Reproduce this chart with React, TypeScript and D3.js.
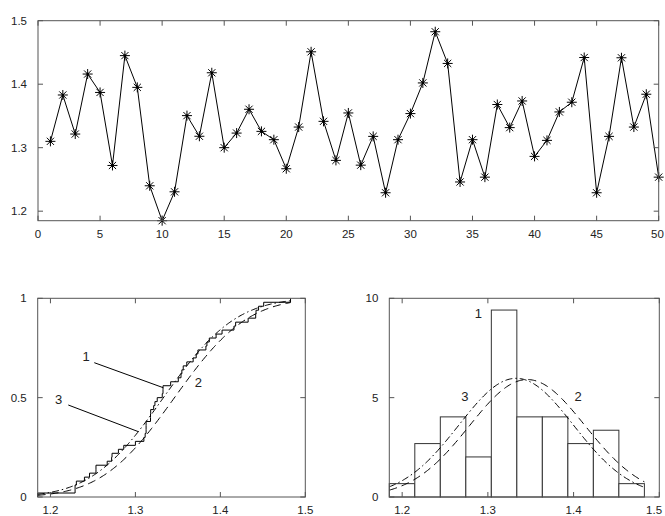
import React from 'react';
import * as d3 from 'd3';

// ---- data ----
const sampleValues = [
  1.31, 1.383, 1.3215, 1.416, 1.387, 1.272, 1.445, 1.395, 1.24, 1.185,
  1.2305, 1.3505, 1.318, 1.418, 1.3, 1.323, 1.3605, 1.3257, 1.3126, 1.2668,
  1.3325, 1.451, 1.3415, 1.28, 1.3547, 1.2725, 1.3178, 1.229, 1.3126, 1.3537,
  1.402, 1.4826, 1.4327, 1.246, 1.3126, 1.2536, 1.368, 1.3316, 1.3736, 1.2863,
  1.3115, 1.3563, 1.3716, 1.442, 1.229, 1.3178, 1.4416, 1.3325, 1.3842, 1.2536,
];
const sampleIndex = sampleValues.map((_, i) => i + 1);
const topXTicks = [0, 5, 10, 15, 20, 25, 30, 35, 40, 45, 50];
const topYTicks = [1.2, 1.3, 1.4, 1.5];
const topYLabels = ['1.2', '1.3', '1.4', '1.5'];
const bottomXTicks = [1.2, 1.3, 1.4, 1.5];
const bottomXLabels = ['1.2', '1.3', '1.4', '1.5'];
const cdfYTicks = [0, 0.5, 1];
const cdfYLabels = ['0', '0.5', '1'];
const histYTicks = [0, 5, 10];
const histYLabels = ['0', '5', '10'];
const histCounts = [1, 4, 6, 3, 14, 6, 6, 4, 5, 1];
// fitted normal distributions (curve 2 dashed, curve 3 dash-dot)
const fit2 = { mean: 1.346, sigma: 0.0675 };
const fit3 = { mean: 1.333, sigma: 0.0668 };

// annotation positions in data units
const cdfLabels = [
  { t: '1', x: 1.2419, y: 0.71 },
  { t: '3', x: 1.2097, y: 0.493 },
  { t: '2', x: 1.374, y: 0.58 },
];
const cdfLeaders = [
  { x1: 1.2516, y1: 0.676, x2: 1.3328, y2: 0.55 },
  { x1: 1.221, y1: 0.463, x2: 1.3034, y2: 0.329 },
];
const histLabels = [
  { t: '1', x: 1.2888, y: 9.25 },
  { t: '3', x: 1.2733, y: 5.1 },
  { t: '2', x: 1.4054, y: 5.1 },
];

const FONT = 'Liberation Sans, Arial, sans-serif';
const AX = '#555';
const TXT = '#222';
const PAGE_W = 665;

function erf(x: number) {
  const s = x < 0 ? -1 : 1;
  const a = Math.abs(x);
  const t = 1 / (1 + 0.3275911 * a);
  const y = 1 - (((((1.061405429 * t - 1.453152027) * t) + 1.421413741) * t - 0.284496736) * t + 0.254829592) * t * Math.exp(-a * a);
  return s * y;
}
const normCdf = (x: number, m: number, s: number) => 0.5 * (1 + erf((x - m) / (s * Math.SQRT2)));
const normPdf = (x: number, m: number, s: number) => Math.exp(-0.5 * ((x - m) / s) ** 2) / (s * Math.sqrt(2 * Math.PI));

type Frame = { left: number; right: number; top: number; bottom: number };

function AxesBox({ f, x, y, xTicks, xLabels, yTicks, yLabels }: any) {
  const tl = 5;
  return (
    <g>
      <rect x={f.left} y={f.top} width={f.right - f.left} height={f.bottom - f.top} fill="none" stroke={AX} strokeWidth={1} />
      {xTicks.map((t: number, i: number) => {
        const px = x(t);
        const lbl = String(xLabels[i]);
        const half = lbl.length * 3.3;
        const cx = Math.min(px, PAGE_W - 1 - half);
        return (
          <g key={'x' + i}>
            <line x1={px} x2={px} y1={f.bottom} y2={f.bottom - tl} stroke={AX} />
            <line x1={px} x2={px} y1={f.top} y2={f.top + tl} stroke={AX} />
            <text x={cx} y={f.bottom + 17} textAnchor="middle" fontSize={11.5} fontFamily={FONT} fill={TXT}>{lbl}</text>
          </g>
        );
      })}
      {yTicks.map((t: number, i: number) => {
        const py = y(t);
        return (
          <g key={'y' + i}>
            <line x1={f.left} x2={f.left + tl} y1={py} y2={py} stroke={AX} />
            <line x1={f.right} x2={f.right - tl} y1={py} y2={py} stroke={AX} />
            <text x={f.left - 11} y={py + 4} textAnchor="end" fontSize={11.5} fontFamily={FONT} fill={TXT}>{yLabels[i]}</text>
          </g>
        );
      })}
    </g>
  );
}

function Star({ cx, cy }: { cx: number; cy: number }) {
  const r = 5;
  const d = r * 0.72;
  return (
    <g stroke="#000" strokeWidth={1}>
      <line x1={cx - r} x2={cx + r} y1={cy} y2={cy} />
      <line x1={cx} x2={cx} y1={cy - r} y2={cy + r} />
      <line x1={cx - d} x2={cx + d} y1={cy - d} y2={cy + d} />
      <line x1={cx - d} x2={cx + d} y1={cy + d} y2={cy - d} />
      <circle cx={cx} cy={cy} r={1.3} fill="#000" stroke="none" />
    </g>
  );
}

export default function App() {
  const vMin = d3.min(sampleValues) as number;
  const vMax = d3.max(sampleValues) as number;
  const N = sampleValues.length;

  // top chart
  const fTop: Frame = { left: 38, right: 658.7, top: 20.7, bottom: 220.7 };
  const xTop = d3.scaleLinear().domain([0, 50]).range([fTop.left, fTop.right]);
  const yTop = d3.scaleLinear().domain([vMin, 1.5]).range([fTop.bottom, fTop.top]);
  const linePath = d3.line<number>().x((_, i) => xTop(sampleIndex[i])).y((v) => yTop(v))(sampleValues) as string;

  // CDF chart
  const fCdf: Frame = { left: 37.7, right: 305.3, top: 298.3, bottom: 497 };
  const xCdf = d3.scaleLinear().domain([vMin, 1.5]).range([fCdf.left, fCdf.right]);
  const yCdf = d3.scaleLinear().domain([0, 1]).range([fCdf.bottom, fCdf.top]);
  const sorted = [...sampleValues].sort(d3.ascending);
  const stairPts: [number, number][] = [[sorted[0], 0]];
  sorted.forEach((v, i) => {
    stairPts.push([v, i / N]);
    stairPts.push([v, (i + 1) / N]);
  });
  const ecdfPath = d3.line<[number, number]>().x((d) => xCdf(d[0])).y((d) => yCdf(d[1]))(stairPts) as string;
  const grid = d3.range(0, 201).map((i) => vMin + ((vMax - vMin) * i) / 200);
  const cdf2 = d3.line<number>().x((v) => xCdf(v)).y((v) => yCdf(normCdf(v, fit2.mean, fit2.sigma)))(grid) as string;
  const cdf3 = d3.line<number>().x((v) => xCdf(v)).y((v) => yCdf(normCdf(v, fit3.mean, fit3.sigma)))(grid) as string;

  // histogram chart
  const fHist: Frame = { left: 389.3, right: 659.3, top: 298.3, bottom: 497 };
  const xHist = d3.scaleLinear().domain([vMin, 1.5]).range([fHist.left, fHist.right]);
  const yHist = d3.scaleLinear().domain([0, 10]).range([fHist.bottom, fHist.top]);
  const binW = (vMax - vMin) / histCounts.length;
  const pdf2 = d3.line<number>().x((v) => xHist(v)).y((v) => yHist(normPdf(v, fit2.mean, fit2.sigma)))(grid) as string;
  const pdf3 = d3.line<number>().x((v) => xHist(v)).y((v) => yHist(normPdf(v, fit3.mean, fit3.sigma)))(grid) as string;

  const dash2 = '8,5';
  const dash3 = '7,3,1.5,3';

  return (
    <div style={{ position: 'absolute', left: 0, top: 0 }}>
      <svg width={665} height={516} style={{ display: 'block', background: '#fff' }}>
        {/* top chart */}
        <path d={linePath} fill="none" stroke="#000" strokeWidth={1} />
        {sampleValues.map((v, i) => (
          <Star key={i} cx={xTop(sampleIndex[i])} cy={yTop(v)} />
        ))}
        <AxesBox f={fTop} x={xTop} y={yTop} xTicks={topXTicks} xLabels={topXTicks.map(String)} yTicks={topYTicks} yLabels={topYLabels} />

        {/* CDF chart */}
        <path d={cdf2} fill="none" stroke="#000" strokeWidth={1} strokeDasharray={dash2} />
        <path d={cdf3} fill="none" stroke="#000" strokeWidth={1} strokeDasharray={dash3} />
        <path d={ecdfPath} fill="none" stroke="#000" strokeWidth={1} />
        {cdfLeaders.map((l, i) => (
          <line key={i} x1={xCdf(l.x1)} y1={yCdf(l.y1)} x2={xCdf(l.x2)} y2={yCdf(l.y2)} stroke="#000" strokeWidth={1} />
        ))}
        {cdfLabels.map((l, i) => (
          <text key={i} x={xCdf(l.x)} y={yCdf(l.y) + 5} textAnchor="middle" fontSize={13} fontFamily={FONT} fill={TXT}>{l.t}</text>
        ))}
        <AxesBox f={fCdf} x={xCdf} y={yCdf} xTicks={bottomXTicks} xLabels={bottomXLabels} yTicks={cdfYTicks} yLabels={cdfYLabels} />

        {/* histogram chart */}
        {histCounts.map((c, i) => {
          const x0 = vMin + i * binW;
          const h = c / (N * binW);
          return (
            <rect key={i} x={xHist(x0)} y={yHist(h)} width={xHist(x0 + binW) - xHist(x0)} height={yHist(0) - yHist(h)} fill="#fff" stroke="#333" strokeWidth={1} />
          );
        })}
        <path d={pdf2} fill="none" stroke="#000" strokeWidth={1} strokeDasharray={dash2} />
        <path d={pdf3} fill="none" stroke="#000" strokeWidth={1} strokeDasharray={dash3} />
        {histLabels.map((l, i) => (
          <text key={i} x={xHist(l.x)} y={yHist(l.y) + 5} textAnchor="middle" fontSize={13} fontFamily={FONT} fill={TXT}>{l.t}</text>
        ))}
        <AxesBox f={fHist} x={xHist} y={yHist} xTicks={bottomXTicks} xLabels={bottomXLabels} yTicks={histYTicks} yLabels={histYLabels} />
      </svg>
    </div>
  );
}
